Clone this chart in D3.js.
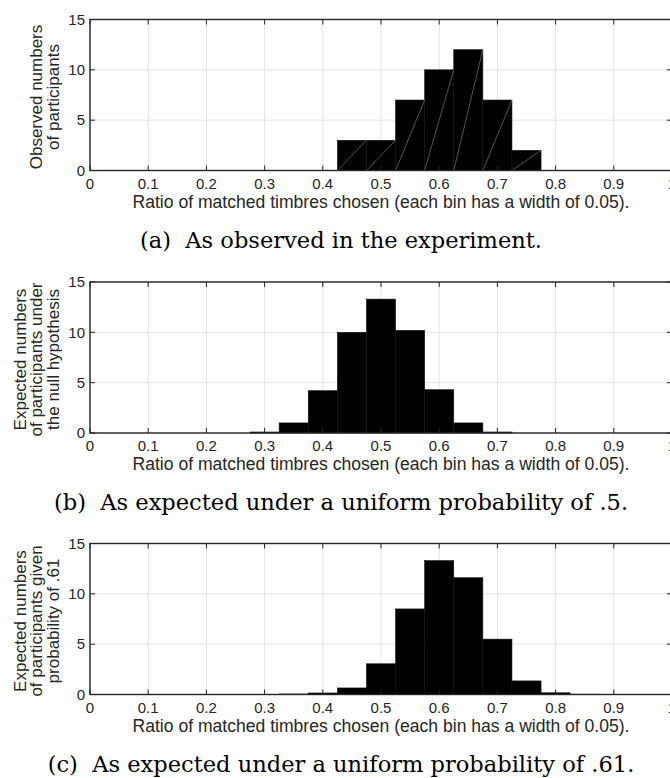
<!DOCTYPE html>
<html>
<head>
<meta charset="utf-8">
<script src="https://cdn.jsdelivr.net/npm/d3@7"></script>
<style>
body { margin: 0; background: #fff; }
svg { display: block; }
text { white-space: pre; }
</style>
</head>
<body>
<svg id="fig" width="670" height="778"></svg>
<script>
// axis ticks shared by the three panels
var xTicks = [0, 0.1, 0.2, 0.3, 0.4, 0.5, 0.6, 0.7, 0.8, 0.9, 1];
var xTickLabels = ["0", "0.1", "0.2", "0.3", "0.4", "0.5", "0.6", "0.7", "0.8", "0.9", "1"];
var yTicks = [0, 5, 10, 15];
var xLabel = "Ratio of matched timbres chosen (each bin has a width of 0.05).";
var binWidth = 0.05;

// (a) observed counts, bin centres
var observedBins = [0.45, 0.5, 0.55, 0.6, 0.65, 0.7, 0.75];
var observedCounts = [3, 3, 7, 10, 12, 7, 2];

// (b) expected under p = .5
var nullBins = [0.3, 0.35, 0.4, 0.45, 0.5, 0.55, 0.6, 0.65, 0.7];
var nullCounts = [0.1, 1.0, 4.2, 10.0, 13.3, 10.2, 4.3, 1.0, 0.1];

// (c) expected under p = .61
var givenBins = [0.35, 0.4, 0.45, 0.5, 0.55, 0.6, 0.65, 0.7, 0.75, 0.8, 0.85];
var givenCounts = [0.05, 0.15, 0.65, 3.05, 8.5, 13.3, 11.6, 5.5, 1.35, 0.17, 0.03];

var yLabels = [
    ["Observed numbers", "of participants"],
    ["Expected numbers", "of participants under", "the null hypothesis"],
    ["Expected numbers", "of participants given", "probability of .61"]
];
var captions = [
    "(a)  As observed in the experiment.",
    "(b)  As expected under a uniform probability of .5.",
    "(c)  As expected under a uniform probability of .61."
];

var panels = [
    { top: 19.5, bins: observedBins, counts: observedCounts, hatch: true },
    { top: 282, bins: nullBins, counts: nullCounts, hatch: false },
    { top: 543.5, bins: givenBins, counts: givenCounts, hatch: false }
];

var svg = d3.select("#fig");
var left = 90, right = 672, plotH = 151;
var ink = "#262626";
var sans = "'Liberation Sans', Arial, Helvetica, sans-serif";

var x = d3.scaleLinear().domain([0, 1]).range([left, right]);

function panel(p, i) {
    var bottom = p.top + plotH;
    var y = d3.scaleLinear().domain([0, 15]).range([bottom, p.top]);
    var g = svg.append("g");
    var bars = p.bins.map(function(b, j) { return { c: b, v: p.counts[j] }; });

    // grid
    g.selectAll("line.gx").data(xTicks).enter().append("line")
        .attr("x1", function(d) { return x(d); }).attr("x2", function(d) { return x(d); })
        .attr("y1", p.top).attr("y2", bottom)
        .style("stroke", "#e4e4e4").style("stroke-width", 1);
    g.selectAll("line.gy").data(yTicks).enter().append("line")
        .attr("x1", left).attr("x2", right)
        .attr("y1", function(d) { return y(d); }).attr("y2", function(d) { return y(d); })
        .style("stroke", "#e4e4e4").style("stroke-width", 1);

    // bars
    g.selectAll("rect.bar").data(bars).enter().append("rect")
        .attr("x", function(d) { return x(d.c - binWidth / 2); })
        .attr("y", function(d) { return y(d.v); })
        .attr("width", function(d) { return x(d.c + binWidth / 2) - x(d.c - binWidth / 2); })
        .attr("height", function(d) { return y(0) - y(d.v); })
        .style("fill", "#000").style("stroke", "#111").style("stroke-width", 0.6);

    if (p.hatch) {
        g.selectAll("line.hatch").data(bars).enter().append("line")
            .attr("x1", function(d) { return x(d.c - binWidth / 2); })
            .attr("y1", y(0))
            .attr("x2", function(d) { return x(d.c + binWidth / 2); })
            .attr("y2", function(d) { return y(d.v); })
            .style("stroke", "#8a8a8a").style("stroke-width", 0.6);
    }

    // ticks inside the box
    var tl = 5;
    g.selectAll("line.tb").data(xTicks).enter().append("line")
        .attr("x1", function(d) { return x(d); }).attr("x2", function(d) { return x(d); })
        .attr("y1", bottom).attr("y2", bottom - tl)
        .style("stroke", ink);
    g.selectAll("line.tt").data(xTicks).enter().append("line")
        .attr("x1", function(d) { return x(d); }).attr("x2", function(d) { return x(d); })
        .attr("y1", p.top).attr("y2", p.top + tl)
        .style("stroke", ink);
    g.selectAll("line.tl").data(yTicks).enter().append("line")
        .attr("x1", left).attr("x2", left + tl)
        .attr("y1", function(d) { return y(d); }).attr("y2", function(d) { return y(d); })
        .style("stroke", ink);
    g.selectAll("line.tr").data(yTicks).enter().append("line")
        .attr("x1", right).attr("x2", right - tl)
        .attr("y1", function(d) { return y(d); }).attr("y2", function(d) { return y(d); })
        .style("stroke", ink);

    g.append("rect")
        .attr("x", left).attr("y", p.top)
        .attr("width", right - left).attr("height", plotH)
        .style("fill", "none").style("stroke", ink).style("stroke-width", 1.4);

    // tick labels
    g.selectAll("text.xt").data(xTicks).enter().append("text")
        .attr("x", function(d) { return x(d); })
        .attr("y", bottom + 18)
        .attr("text-anchor", "middle")
        .style("font-family", sans).style("font-size", "15px").style("fill", ink)
        .text(function(d, k) { return xTickLabels[k]; });
    g.selectAll("text.yt").data(yTicks).enter().append("text")
        .attr("x", left - 5)
        .attr("y", function(d) { return y(d); })
        .attr("dy", "0.35em")
        .attr("text-anchor", "end")
        .style("font-family", sans).style("font-size", "15px").style("fill", ink)
        .text(function(d) { return d; });

    // axis titles
    g.append("text")
        .attr("x", (left + right) / 2)
        .attr("y", bottom + 37)
        .attr("text-anchor", "middle")
        .attr("textLength", 497).attr("lengthAdjust", "spacingAndGlyphs")
        .style("font-family", sans).style("font-size", "17.5px").style("fill", ink)
        .text(xLabel);

    var lines = yLabels[i];
    var cy = (p.top + bottom) / 2 + 2;
    g.selectAll("text.yl").data(lines).enter().append("text")
        .attr("transform", function(d, k) {
            var bx = 58.5 - (lines.length - 1 - k) * 16.5;
            return "translate(" + bx + "," + cy + ") rotate(-90)";
        })
        .attr("text-anchor", "middle")
        .style("font-family", sans).style("font-size", "17px").style("fill", ink)
        .text(function(d) { return d; });

    // caption
    g.append("text")
        .attr("class", "cap")
        .attr("x", 341)
        .attr("y", bottom + 77)
        .attr("text-anchor", "middle")
        .style("font-family", "'DejaVu Serif', serif").style("font-size", "20px").style("fill", "#000")
        .text(captions[i]);
}

panels.forEach(panel);

// size the captions so the last one spans its width in the figure
var caps = svg.selectAll("text.cap");
var w = caps.nodes()[2].getComputedTextLength();
var fs = 20 * 587 / w;
caps.style("font-size", fs + "px");
</script>
</body>
</html>
